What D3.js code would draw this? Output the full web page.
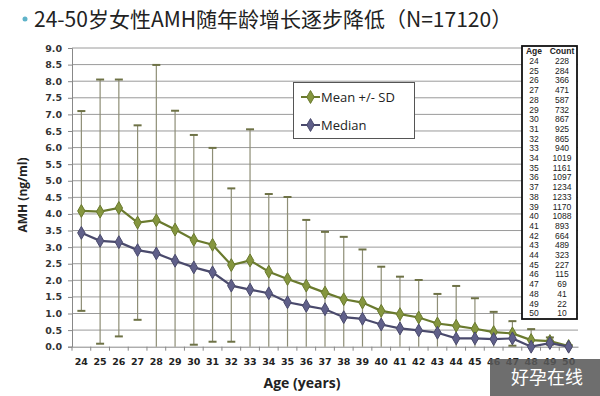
<!DOCTYPE html>
<html>
<head>
<meta charset="utf-8">
<script src="https://cdn.jsdelivr.net/npm/d3@7"></script>
<style>
  body { margin: 0; background: #fff; }
  svg { display: block; font-family: "Liberation Sans", Arial, sans-serif; }
</style>
</head>
<body>
<svg id="chart" width="600" height="396"></svg>
<script>
// chart data
const ages = [24, 25, 26, 27, 28, 29, 30, 31, 32, 33, 34, 35, 36, 37, 38, 39, 40, 41, 42, 43, 44, 45, 46, 47, 48, 49, 50];
const meanAmh = [4.09, 4.07, 4.18, 3.74, 3.81, 3.53, 3.22, 3.07, 2.46, 2.60, 2.26, 2.04, 1.84, 1.63, 1.43, 1.33, 1.08, 0.98, 0.88, 0.70, 0.63, 0.54, 0.44, 0.40, 0.20, 0.17, 0.02];
const sdAmh = [3.01, 3.98, 3.87, 2.93, 4.68, 3.58, 3.16, 2.92, 2.31, 3.95, 2.34, 2.47, 1.98, 1.83, 1.88, 1.60, 1.33, 1.13, 1.13, 0.89, 1.20, 0.92, 0.61, 0.37, 0.33, 0.11, 0.03];
const medianAmh = [3.43, 3.19, 3.15, 2.91, 2.81, 2.59, 2.39, 2.24, 1.84, 1.72, 1.61, 1.34, 1.23, 1.13, 0.89, 0.84, 0.67, 0.55, 0.49, 0.42, 0.25, 0.25, 0.23, 0.25, 0.0, 0.11, 0.0];
const counts = [228, 284, 366, 471, 587, 732, 867, 925, 865, 940, 1019, 1161, 1097, 1234, 1233, 1170, 1088, 893, 664, 489, 323, 227, 115, 69, 41, 22, 10];
const yTicks = d3.range(0, 9.01, 0.5);
const titleText = "24-50岁女性AMH随年龄增长逐步降低（N=17120）";

const svg = d3.select("#chart");
const x = d3.scaleBand().domain(ages).range([72, 578]);
const y = d3.scaleLinear().domain([0, 9]).range([346.7, 48]);
const cx = a => x(a) + x.bandwidth() / 2;

// title
svg.append("circle").attr("cx", 25).attr("cy", 19).attr("r", 2.5).attr("fill", "#5fb3c9");
svg.append("text").attr("x", 34).attr("y", 27)
    .attr("font-family", "'Noto Sans CJK SC', sans-serif").attr("font-size", 21).attr("fill", "#222")
    .text(titleText);

// gridlines
svg.append("g").selectAll("line").data(yTicks.slice(1)).enter().append("line")
    .attr("x1", 72).attr("x2", 578)
    .attr("y1", d => y(d)).attr("y2", d => y(d))
    .attr("stroke", "#9a9a9a").attr("stroke-width", 1);

// y axis
const yAxis = svg.append("g").attr("transform", "translate(72,0)")
    .call(d3.axisLeft(y).tickValues(yTicks).tickFormat(d3.format(".1f")).tickSize(4).tickPadding(6));
yAxis.select(".domain").attr("stroke", "#888");
yAxis.selectAll(".tick line").attr("stroke", "#888");
yAxis.selectAll("text").attr("font-size", 10).attr("font-weight", "bold").attr("fill", "#333")
    .attr("font-family", "'DejaVu Sans', sans-serif").style("font-size", "9.5px");

// x axis
const xAxis = svg.append("g").attr("transform", `translate(0,${y(0)})`)
    .call(d3.axisBottom(x).tickSize(0).tickPadding(12));
xAxis.select(".domain").attr("stroke", "#888");
xAxis.selectAll("text").attr("font-weight", "bold").attr("fill", "#222")
    .attr("font-family", "'DejaVu Sans', sans-serif").style("font-size", "9.5px");
xAxis.append("g").selectAll("line").data(ages).enter().append("line")
    .attr("x1", d => x(d)).attr("x2", d => x(d)).attr("y1", 0).attr("y2", 4).attr("stroke", "#888");

// axis titles
svg.append("text").attr("transform", "translate(27,195) rotate(-90)").attr("text-anchor", "middle")
    .attr("font-weight", "bold").attr("font-size", 12).attr("fill", "#222")
    .attr("font-family", "'Open Sans', sans-serif").text("AMH (ng/ml)");
svg.append("text").attr("x", 302).attr("y", 388).attr("text-anchor", "middle")
    .attr("font-weight", "bold").attr("font-size", 14).attr("fill", "#222")
    .attr("font-family", "'Open Sans', sans-serif").text("Age (years)");

// error bars
const meanRows = ages.map((a, i) => ({ age: a, mean: meanAmh[i], sd: sdAmh[i], median: medianAmh[i] }));
const eb = svg.append("g");
eb.selectAll("line.bar").data(meanRows).enter().append("line").attr("class", "bar")
    .attr("x1", d => cx(d.age)).attr("x2", d => cx(d.age))
    .attr("y1", d => y(d.mean + d.sd)).attr("y2", d => y(Math.max(0, d.mean - d.sd)))
    .attr("stroke", "#8e8e76").attr("stroke-width", 1.2);
eb.selectAll("line.top").data(meanRows).enter().append("line").attr("class", "top")
    .attr("x1", d => cx(d.age) - 4).attr("x2", d => cx(d.age) + 4)
    .attr("y1", d => y(d.mean + d.sd)).attr("y2", d => y(d.mean + d.sd))
    .attr("stroke", "#6e7246").attr("stroke-width", 2);
eb.selectAll("line.low").data(meanRows.filter(d => d.mean - d.sd > 0)).enter().append("line").attr("class", "low")
    .attr("x1", d => cx(d.age) - 4).attr("x2", d => cx(d.age) + 4)
    .attr("y1", d => y(d.mean - d.sd)).attr("y2", d => y(d.mean - d.sd))
    .attr("stroke", "#6e7246").attr("stroke-width", 2);

// series lines
const diamond = d3.symbol().type(d3.symbolDiamond).size(48);
function series(key, stroke, fill) {
    const line = d3.line().x(d => cx(d.age)).y(d => y(d[key]));
    svg.append("path").datum(meanRows).attr("d", line)
        .attr("fill", "none").attr("stroke", stroke).attr("stroke-width", 2.2);
    svg.append("g").selectAll("path").data(meanRows).enter().append("path")
        .attr("d", diamond).attr("transform", d => `translate(${cx(d.age)},${y(d[key])})`)
        .attr("fill", fill).attr("stroke", stroke).attr("stroke-width", 1);
}
series("mean", "#6a7a2e", "#85963f");
series("median", "#4a4a6c", "#60608a");

// legend
const lg = svg.append("g");
lg.append("rect").attr("x", 293.5).attr("y", 82.5).attr("width", 121).attr("height", 56)
    .attr("fill", "#fff").attr("stroke", "#555").attr("stroke-width", 1);
[["Mean +/- SD", "#6a7a2e", "#85963f", 97], ["Median", "#4a4a6c", "#60608a", 125]].forEach(([label, s, f, ly]) => {
    lg.append("line").attr("x1", 301).attr("x2", 320).attr("y1", ly).attr("y2", ly).attr("stroke", s).attr("stroke-width", 2);
    lg.append("path").attr("d", diamond).attr("transform", `translate(310.5,${ly})`).attr("fill", f).attr("stroke", s);
    lg.append("text").attr("x", 321).attr("y", ly + 5).attr("font-size", 13).attr("fill", "#222")
        .attr("font-family", "'Open Sans', sans-serif").text(label);
});

// count table
const tb = svg.append("g").attr("font-size", 8.5).attr("fill", "#222");
tb.append("rect").attr("x", 522).attr("y", 46).attr("width", 55).attr("height", 273)
    .attr("fill", "#fff").attr("stroke", "#111").attr("stroke-width", 1.8);
tb.append("text").attr("x", 534).attr("y", 54).attr("text-anchor", "middle").attr("font-weight", "bold").text("Age");
tb.append("text").attr("x", 562).attr("y", 54).attr("text-anchor", "middle").attr("font-weight", "bold").text("Count");
const rowY = d3.scaleLinear().domain([0, ages.length - 1]).range([64, 316.2]);
tb.selectAll("text.age").data(ages).enter().append("text").attr("class", "age")
    .attr("x", 534).attr("y", (d, i) => rowY(i)).attr("text-anchor", "middle").text(d => d);
tb.selectAll("text.cnt").data(counts).enter().append("text").attr("class", "cnt")
    .attr("x", 562).attr("y", (d, i) => rowY(i)).attr("text-anchor", "middle").text(d => d);

// watermark
svg.append("rect").attr("x", 490).attr("y", 359).attr("width", 110).attr("height", 37)
    .attr("fill", "#5a5a5a").attr("fill-opacity", 0.88);
svg.append("text").attr("x", 547).attr("y", 384).attr("text-anchor", "middle")
    .attr("font-family", "'Noto Sans CJK SC', sans-serif").attr("font-size", 18).attr("fill", "#fff")
    .text("好孕在线");
</script>
</body>
</html>
